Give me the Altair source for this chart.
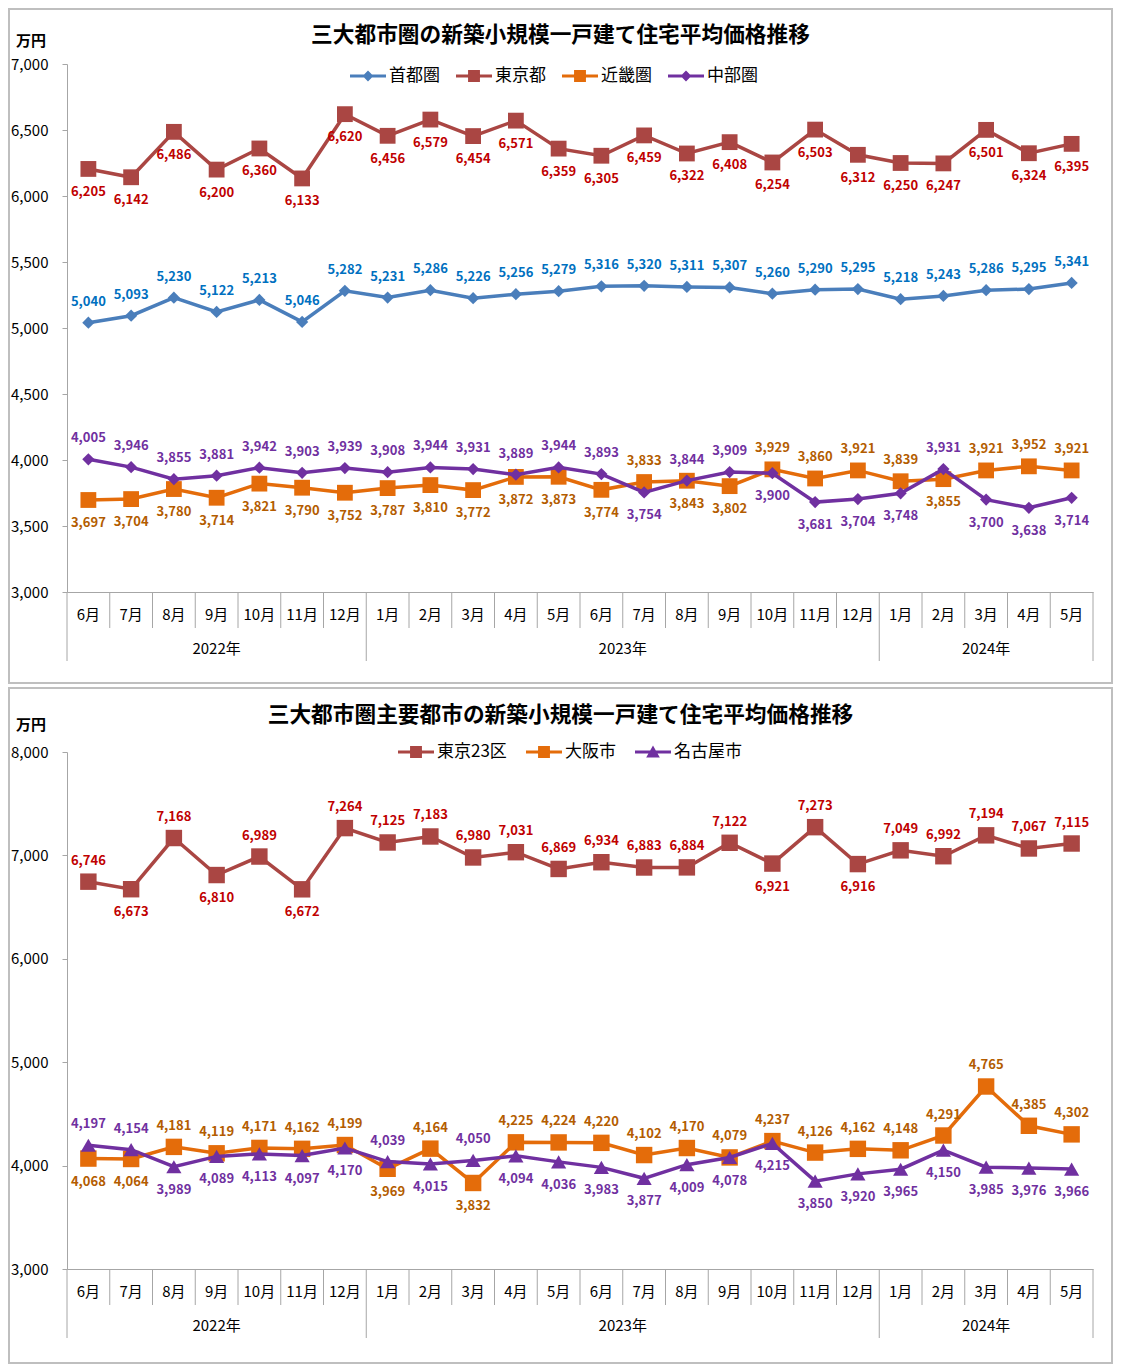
import altair as alt
import pandas as pd

# ---------------- data ----------------
months = ["6月", "7月", "8月", "9月", "10月", "11月", "12月",
          "1月", "2月", "3月", "4月", "5月", "6月", "7月", "8月", "9月", "10月", "11月", "12月",
          "1月", "2月", "3月", "4月", "5月"]
years = ["2022年", "2023年", "2024年"]
months_per_year = [7, 12, 5]

# Panel 1 : 三大都市圏
p1_names = ["首都圏", "東京都", "近畿圏", "中部圏"]
shutoken = [5040, 5093, 5230, 5122, 5213, 5046, 5282, 5231, 5286, 5226, 5256, 5279,
            5316, 5320, 5311, 5307, 5260, 5290, 5295, 5218, 5243, 5286, 5295, 5341]
tokyo = [6205, 6142, 6486, 6200, 6360, 6133, 6620, 6456, 6579, 6454, 6571, 6359,
         6305, 6459, 6322, 6408, 6254, 6503, 6312, 6250, 6247, 6501, 6324, 6395]
kinki = [3697, 3704, 3780, 3714, 3821, 3790, 3752, 3787, 3810, 3772, 3872, 3873,
         3774, 3833, 3843, 3802, 3929, 3860, 3921, 3839, 3855, 3921, 3952, 3921]
chubu = [4005, 3946, 3855, 3881, 3942, 3903, 3939, 3908, 3944, 3931, 3889, 3944,
         3893, 3754, 3844, 3909, 3900, 3681, 3704, 3748, 3931, 3700, 3638, 3714]
A, B = "above", "below"
shutoken_side = [A] * 24
tokyo_side = [B] * 24
kinki_side = [B] * 13 + [A, B, B, A, A, A, A, B, A, A, A]
chubu_side = [A] * 13 + [B, A, A, B, B, B, B, A, B, B, B]

# Panel 2 : 主要都市
p2_names = ["東京23区", "大阪市", "名古屋市"]
tokyo23 = [6746, 6673, 7168, 6810, 6989, 6672, 7264, 7125, 7183, 6980, 7031, 6869,
           6934, 6883, 6884, 7122, 6921, 7273, 6916, 7049, 6992, 7194, 7067, 7115]
osaka = [4068, 4064, 4181, 4119, 4171, 4162, 4199, 3969, 4164, 3832, 4225, 4224,
         4220, 4102, 4170, 4079, 4237, 4126, 4162, 4148, 4291, 4765, 4385, 4302]
nagoya = [4197, 4154, 3989, 4089, 4113, 4097, 4170, 4039, 4015, 4050, 4094, 4036,
          3983, 3877, 4009, 4078, 4215, 3850, 3920, 3965, 4150, 3985, 3976, 3966]
tokyo23_side = [A, B, A, B, A, B, A, A, A, A, A, A, A, A, A, A, B, A, B, A, A, A, A, A]
osaka_side = [B, B, A, A, A, A, A, B, A, B] + [A] * 14
nagoya_side = [A, A, B, B, B, B, B, A, B, A] + [B] * 14

# ---------------- styling ----------------
FONT = "Noto Sans CJK JP"
GRAY = "#A6A6A6"
BLUE, BLUE_L = "#4A7EBB", "#0070C0"
RED, RED_L = "#AA4643", "#C00000"
ORANGE, ORANGE_L = "#E46C0A", "#B35C00"
PURPLE, PURPLE_L = "#7030A0", "#7030A0"

BAR = "M-1,-0.085H1V0.085H-1Z"
P_DIAMOND = BAR + " M0,-0.3L0.3,0L0,0.3L-0.3,0Z"
P_SQUARE = BAR + " M-0.33,-0.33H0.33V0.33H-0.33Z"
P_TRI = BAR + " M0,-0.36L0.38,0.3H-0.38Z"

PLOT_W = 1026


def make_panel(title, names, values, sides, line_colors, label_colors, shapes, sizes,
               legend_paths, y_min, y_max, y_step, plot_h, rect_top, rect_bottom,
               title_y, unit_y, legend_x, legend_y, col_pad):
    n = len(months)
    rows = []
    for name, vals, sds in zip(names, values, sides):
        for i, (v, s) in enumerate(zip(vals, sds)):
            rows.append({"series": name, "x": i + 0.5, "value": v, "side": s})
    df = pd.DataFrame(rows)

    xs = alt.X("x:Q", scale=alt.Scale(domain=[0, n], nice=False, zero=False),
               axis=alt.Axis(labels=False, ticks=False, grid=False, domainColor=GRAY,
                             domainWidth=1, title=None))
    ys = alt.Y("value:Q", scale=alt.Scale(domain=[y_min, y_max], nice=False, zero=False),
               axis=alt.Axis(values=list(range(y_min, y_max + 1, y_step)), format=",.0f",
                             grid=False, domainColor=GRAY, tickColor=GRAY, tickSize=5,
                             labelFont=FONT, labelFontSize=15, labelColor="#000000",
                             labelPadding=14, title=None))

    layers = []
    # panel frame
    layers.append(
        alt.Chart(pd.DataFrame({"k": [0]})).mark_rect(
            fillOpacity=0, stroke="#BFBFBF", strokeWidth=2
        ).encode(x=alt.value(-58), x2=alt.value(PLOT_W + 19),
                 y=alt.value(rect_top), y2=alt.value(plot_h + rect_bottom))
    )
    # category separators
    bounds = [0]
    for c in months_per_year:
        bounds.append(bounds[-1] + c)
    sep = pd.DataFrame({"x": [i for i in range(1, n) if i not in bounds]})
    layers.append(alt.Chart(sep).mark_rule(color=GRAY, strokeWidth=1).encode(
        x=xs, y=alt.value(plot_h), y2=alt.value(plot_h + 36)))
    ysep = pd.DataFrame({"x": bounds})
    layers.append(alt.Chart(ysep).mark_rule(color=GRAY, strokeWidth=1).encode(
        x=xs, y=alt.value(plot_h), y2=alt.value(plot_h + 69)))
    # month labels
    mdf = pd.DataFrame({"x": [i + 0.5 for i in range(n)], "label": months})
    layers.append(alt.Chart(mdf).mark_text(font=FONT, fontSize=15, color="#000000",
                                           baseline="middle").encode(
        x=xs, y=alt.value(plot_h + 23), text="label:N"))
    ydf = pd.DataFrame({"x": [(bounds[k] + bounds[k + 1]) / 2 for k in range(len(years))],
                        "label": years})
    layers.append(alt.Chart(ydf).mark_text(font=FONT, fontSize=15, color="#000000",
                                           baseline="middle").encode(
        x=xs, y=alt.value(plot_h + 57), text="label:N"))
    # title and unit
    layers.append(alt.Chart(pd.DataFrame({"t": [title]})).mark_text(
        font=FONT, fontSize=21.7, fontWeight="bold", color="#000000", baseline="middle"
    ).encode(x=alt.value((PLOT_W - 39) / 2), y=alt.value(title_y), text="t:N"))
    layers.append(alt.Chart(pd.DataFrame({"t": ["万円"]})).mark_text(
        font=FONT, fontSize=15, fontWeight="bold", color="#000000", baseline="middle"
    ).encode(x=alt.value(-36), y=alt.value(unit_y), text="t:N"))

    # series
    for name, lc, shp, sz in zip(names, line_colors, shapes, sizes):
        base = alt.Chart(df).transform_filter(alt.datum.series == name)
        layers.append(base.mark_line(color=lc, strokeWidth=3.5).encode(x=xs, y=ys))
        layers.append(base.mark_point(shape=shp, filled=True, size=sz, color=lc,
                                      opacity=1).encode(x=xs, y=ys))
    for name, tc in zip(names, label_colors):
        for side, dy in [(A, -21), (B, 23)]:
            layers.append(
                alt.Chart(df).transform_filter(
                    (alt.datum.series == name) & (alt.datum.side == side)
                ).mark_text(font=FONT, fontSize=13, fontWeight="bold", color=tc,
                            dy=dy, baseline="middle").encode(
                    x=xs, y=ys, text=alt.Text("value:Q", format=","))
            )

    # legend
    leg = alt.Legend(orient="none", legendX=legend_x, legendY=legend_y,
                     direction="horizontal", title=None, labelFont=FONT,
                     labelFontSize=17, labelColor="#000000", labelOffset=3,
                     columnPadding=col_pad, symbolSize=1296, symbolStrokeWidth=0,
                     padding=0)
    layers.append(
        alt.Chart(df).transform_filter(alt.datum.value < 0).mark_point(
            filled=True, opacity=1
        ).encode(
            color=alt.Color("series:N", scale=alt.Scale(domain=names, range=line_colors),
                            legend=leg),
            shape=alt.Shape("series:N", scale=alt.Scale(domain=names, range=legend_paths),
                            legend=leg),
        )
    )
    return alt.layer(*layers).properties(width=PLOT_W, height=plot_h)


p1 = make_panel(
    "三大都市圏の新築小規模一戸建て住宅平均価格推移",
    p1_names, [shutoken, tokyo, kinki, chubu],
    [shutoken_side, tokyo_side, kinki_side, chubu_side],
    [BLUE, RED, ORANGE, PURPLE], [BLUE_L, RED_L, ORANGE_L, PURPLE_L],
    ["diamond", "square", "square", "diamond"], [150, 250, 250, 150],
    [P_DIAMOND, P_SQUARE, P_SQUARE, P_DIAMOND],
    3000, 7000, 500, 528, -55, 91, -29, -23, 283, -6, 16)

p2 = make_panel(
    "三大都市圏主要都市の新築小規模一戸建て住宅平均価格推移",
    p2_names, [tokyo23, osaka, nagoya],
    [tokyo23_side, osaka_side, nagoya_side],
    [RED, ORANGE, PURPLE], [RED_L, ORANGE_L, PURPLE_L],
    ["square", "square", "triangle-up"], [270, 270, 230],
    [P_SQUARE, P_SQUARE, P_TRI],
    3000, 8000, 1000, 517, -64, 94, -37, -27, 331, -18, 19)

chart = alt.vconcat(p1, p2, spacing=3).resolve_scale(
    color="independent", shape="independent"
).resolve_legend(
    color="independent", shape="independent"
).properties(
    padding=0, background="white"
).configure_view(strokeWidth=0)

chart.save("out.html", embed_options={"renderer": "svg", "actions": False})
